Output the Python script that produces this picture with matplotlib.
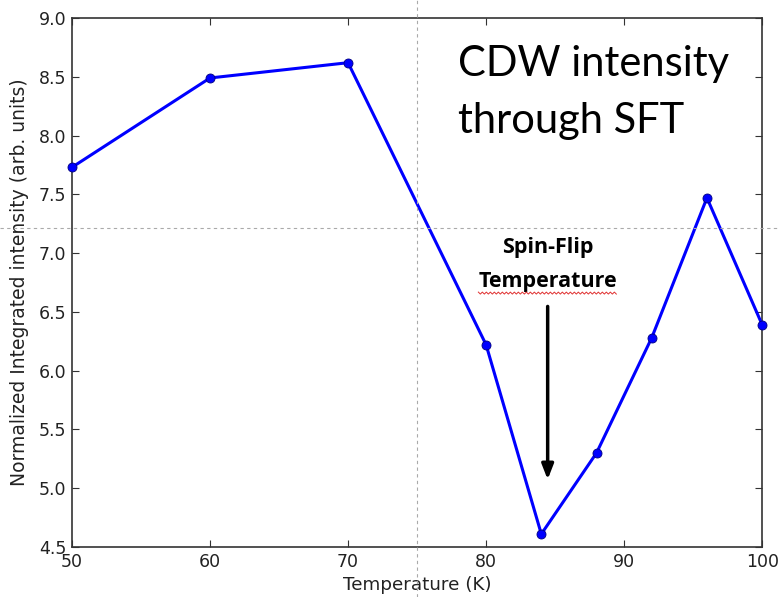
import numpy as np
import matplotlib
matplotlib.use("Agg")
import matplotlib.pyplot as plt
from matplotlib.lines import Line2D

# Integrated CDW peak intensity vs temperature
temperature = [50, 60, 70, 80, 84, 88, 92, 96, 100]
intensity = [7.73, 8.49, 8.62, 6.22, 4.61, 5.30, 6.28, 7.47, 6.39]

x_ticks = [50, 60, 70, 80, 90, 100]
y_ticks = [4.5, 5.0, 5.5, 6.0, 6.5, 7.0, 7.5, 8.0, 8.5, 9.0]

spin_flip_T = 84.46
guide_x, guide_y = 75, 7.21

fig = plt.figure(figsize=(7.79, 5.97), dpi=100)
ax = fig.add_axes([0.0924, 0.0838, 0.886, 0.886])

ax.plot(temperature, intensity, color="#0000ff", lw=2.2, marker="o",
        markersize=6.5, markerfacecolor="#0000ff", markeredgecolor="#000080",
        markeredgewidth=0.6, zorder=3, clip_on=False)

ax.set_xlim(50, 100)
ax.set_ylim(4.5, 9.0)
ax.set_xticks(x_ticks)
ax.set_yticks(y_ticks)
ax.set_xticklabels([str(t) for t in x_ticks])
ax.set_yticklabels([f"{t:.1f}" for t in y_ticks])
ax.tick_params(direction="in", length=5, width=0.8, top=True, right=True,
               labelsize=12.5, labelcolor="#222222", colors="#333333", pad=4)
for s in ax.spines.values():
    s.set_color("#333333")
    s.set_linewidth(1.2)

ax.set_xlabel("Temperature (K)", fontsize=13.2, color="#222222", labelpad=4)
ax.set_ylabel("Normalized Integrated intensity (arb. units)", fontsize=13.5,
              color="#222222", labelpad=7)

ax.text(0.560, 0.890, "CDW intensity", transform=ax.transAxes,
        fontsize=30, family="Lato", ha="left", va="baseline", color="black")
ax.text(0.560, 0.782, "through SFT", transform=ax.transAxes,
        fontsize=30, family="Lato", ha="left", va="baseline", color="black")

ax.text(spin_flip_T, 7.002, "Spin-Flip", fontsize=15.5, family="Open Sans",
        weight="bold", ha="center", va="baseline")
t2 = ax.text(spin_flip_T, 6.713, "Temperature", fontsize=15.5, family="Open Sans",
             weight="bold", ha="center", va="baseline")

ax.annotate("", xy=(spin_flip_T, 5.05), xytext=(spin_flip_T, 6.57),
            arrowprops=dict(arrowstyle="-|>,head_length=0.9,head_width=0.35",
                            color="black", lw=2.5))

fig.canvas.draw()

# wavy red underline beneath "Temperature"
bb = t2.get_window_extent()
wx = np.arange(bb.x0, bb.x1, 2.0)
wy = (ax.transData.transform((spin_flip_T, 6.66))[1]
      + np.where(np.arange(len(wx)) % 2 == 0, 1.0, -1.0))
fig.add_artist(Line2D(wx, wy, transform=None, color="#e03030", lw=0.7,
                      zorder=6))

# dashed crosshair guides spanning the whole canvas
px, py = ax.transData.transform((guide_x, guide_y))
fx, fy = fig.transFigure.inverted().transform((px, py))
fig.add_artist(Line2D([fx, fx], [0, 1], transform=fig.transFigure,
                      color="#aaaaaa", lw=0.8, ls=(0, (3, 3)), zorder=5))
fig.add_artist(Line2D([0, 1], [fy, fy], transform=fig.transFigure,
                      color="#aaaaaa", lw=0.8, ls=(0, (3, 3)), zorder=5))

fig.savefig("out.png", dpi=100)
